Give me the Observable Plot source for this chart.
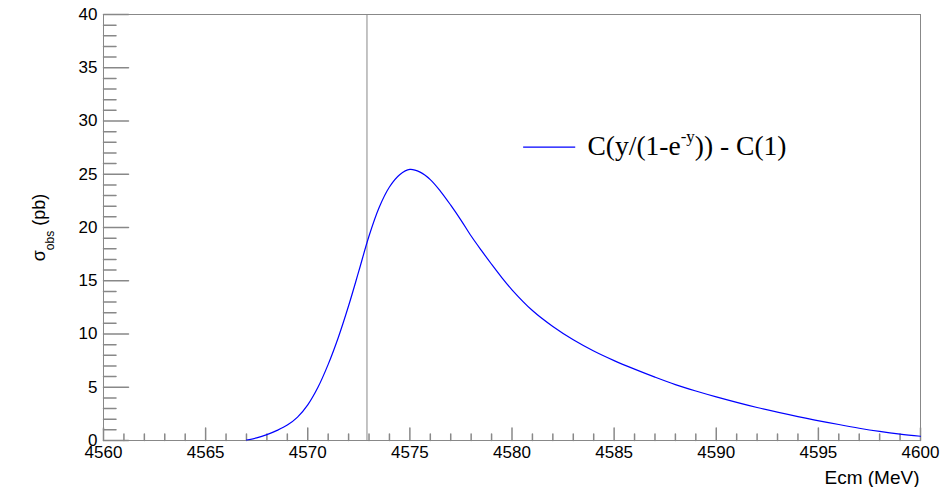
<!DOCTYPE html>
<html>
<head>
<meta charset="utf-8">
<script src="https://cdn.jsdelivr.net/npm/d3@7"></script>
<script src="https://cdn.jsdelivr.net/npm/@observablehq/plot@0.6"></script>
<style>
  html, body { margin: 0; padding: 0; background: #fff; }
</style>
</head>
<body>
<div id="chart"></div>
<script>
// Observed cross section vs. centre-of-mass energy
const energy = [4567.0, 4567.5, 4568.0, 4568.5, 4569.0, 4569.5, 4570.0, 4570.5, 4571.0, 4571.5,
                4572.0, 4572.5, 4573.0, 4573.5, 4574.0, 4574.5, 4575.0, 4575.5, 4576.0, 4576.5,
                4577.0, 4577.5, 4578.0, 4578.5, 4579.0, 4579.5, 4580.0, 4581.0, 4582.0, 4583.0,
                4584.0, 4585.0, 4586.0, 4587.0, 4588.0, 4589.0, 4590.0, 4592.0, 4594.0, 4596.0,
                4597.0, 4598.0, 4599.0, 4600.0];
const sigmaObs = [0.05, 0.25, 0.55, 0.95, 1.45, 2.2, 3.35, 5.0, 7.15, 9.7,
                  12.65, 15.9, 19.2, 21.9, 23.8, 24.95, 25.45, 25.2, 24.5, 23.4,
                  22.1, 20.7, 19.2, 17.85, 16.55, 15.3, 14.15, 12.2, 10.7, 9.45,
                  8.4, 7.5, 6.7, 5.95, 5.25, 4.65, 4.1, 3.1, 2.25, 1.5,
                  1.15, 0.85, 0.6, 0.4];

// Threshold marker
const markerEnergy = [4572.9];

// Axis ticks and labels
const xMajor = [4560, 4565, 4570, 4575, 4580, 4585, 4590, 4595, 4600];
const xMinor = d3.range(4560, 4601, 1).filter(v => v % 5 !== 0);
const yMajor = [0, 5, 10, 15, 20, 25, 30, 35, 40];
const yMinor = d3.range(0, 41, 1).filter(v => v % 5 !== 0);
const xTitle = "Ecm (MeV)";
const yTitle = "σobs (pb)";
const legendLabel = "C(y/(1-e-y)) - C(1)";

const curve = energy.map((e, i) => ({e, s: sigmaObs[i]}));

const frameColor = "#888";
const curveColor = "#0000ff";
// a tick drawn inward from the frame
const tickShape = {draw(context, l) { context.moveTo(0, 0); context.lineTo(0, -l); }};

const chart = Plot.plot({
  width: 941,
  height: 487,
  marginLeft: 103,
  marginRight: 21,
  marginTop: 14,
  marginBottom: 47,
  style: {fontFamily: "'Liberation Sans', Arial, sans-serif", fontSize: "17px", color: "black", background: "white"},
  x: {domain: [4560, 4600]},
  y: {domain: [0, 40]},
  marks: [
    Plot.frame({stroke: frameColor}),
    // inward ticks
    Plot.vector(xMajor, {x: d => d, frameAnchor: "bottom", length: 12.5, rotate: 0, anchor: "start", shape: tickShape, stroke: frameColor}),
    Plot.vector(xMinor, {x: d => d, frameAnchor: "bottom", length: 6.5, rotate: 0, anchor: "start", shape: tickShape, stroke: frameColor}),
    Plot.vector(yMajor, {y: d => d, frameAnchor: "left", length: 25, rotate: 90, anchor: "start", shape: tickShape, stroke: frameColor}),
    Plot.vector(yMinor, {y: d => d, frameAnchor: "left", length: 12.5, rotate: 90, anchor: "start", shape: tickShape, stroke: frameColor}),
    // tick labels
    Plot.axisX({ticks: xMajor, tickSize: 0, tickPadding: 5, tickFormat: d => String(d), label: null, fontSize: 17, fill: "black"}),
    Plot.axisY({ticks: yMajor, tickSize: 0, tickPadding: 6, tickFormat: d => String(d), label: null, fontSize: 17, fill: "black"}),
    // marker line
    Plot.ruleX(markerEnergy, {stroke: frameColor, strokeWidth: 1}),
    // curve
    Plot.line(curve, {x: "e", y: "s", stroke: curveColor, strokeWidth: 1.2, curve: "catmull-rom"}),
    // legend entry
    Plot.ruleY([27.54], {x1: 4580.57, x2: 4583.12, stroke: curveColor, strokeWidth: 1.2}),
    Plot.text([legendLabel], {frameAnchor: "top-left", dx: 484, dy: 140.5, textAnchor: "start", lineAnchor: "bottom", fontFamily: "'Liberation Serif', 'Times New Roman', serif", fontSize: 27.5, fill: "black"}),
    // axis titles
    Plot.text([xTitle], {frameAnchor: "bottom-right", dx: -1, dy: 43, textAnchor: "end", lineAnchor: "bottom", fontSize: 19, fill: "black"}),
    Plot.text([yTitle], {frameAnchor: "left", dx: -59, rotate: -90, textAnchor: "middle", lineAnchor: "bottom", fontSize: 18, fill: "black"})
  ]
});

// rich text: subscripts and superscripts inside labels
function richText(svg, plain, parts) {
  d3.select(svg).selectAll("text").filter(function() { return this.textContent === plain; }).each(function() {
    const t = d3.select(this);
    t.text(null);
    for (const p of parts) {
      const ts = t.append("tspan").text(p.t);
      if (p.size) ts.attr("font-size", p.size);
      if (p.dy) ts.attr("dy", p.dy);
    }
  });
}
richText(chart, yTitle, [{t: "σ"}, {t: "obs", size: 12, dy: 9}, {t: " (pb)", dy: -9}]);
richText(chart, legendLabel, [{t: "C(y/(1-e"}, {t: "-y", size: 17, dy: -13}, {t: ")) - C(1)", dy: 13}]);

document.getElementById("chart").appendChild(chart);
</script>
</body>
</html>
